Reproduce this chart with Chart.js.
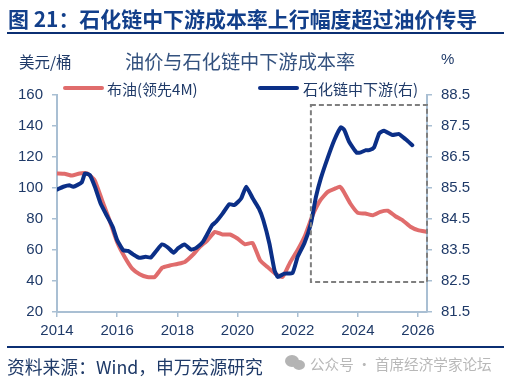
<!DOCTYPE html>
<html lang="zh">
<head>
<meta charset="UTF-8">
<title>油价与石化链中下游成本率</title>
<script src="https://cdn.jsdelivr.net/npm/chart.js"></script>
<style>
    html, body { margin: 0; padding: 0; background: #fff; overflow: hidden; }
    #wrap { position: relative; width: 508px; height: 384px; font-family: "Noto Sans CJK SC", sans-serif; color: #1f3a68; }
    #wrap canvas { position: absolute; left: 0; top: 0; }
    .t { position: absolute; white-space: nowrap; line-height: 1; }
    .rule { position: absolute; left: 7px; width: 497px; height: 2px; background: #0b2f73; }
    .swatch { position: absolute; width: 41px; height: 4px; border-radius: 2px; }
    .bub { position: absolute; border-radius: 50%; background: #b4b4b4; }
</style>
</head>
<body>
<div id="wrap">
    <canvas id="chart" width="508" height="384"></canvas>
    <div class="t" style="left:8px;top:8px;font-size:20.95px;font-weight:700;color:#123f8a">图 21：石化链中下游成本率上行幅度超过油价传导</div>
    <div class="rule" style="top:32px"></div>
    <div class="t" style="left:19px;top:54px;font-size:15.5px">美元/桶</div>
    <div class="t" style="left:125px;top:52px;font-size:19.2px;color:#34527f">油价与石化链中下游成本率</div>
    <div class="t" style="left:441px;top:51px;font-size:15px;font-family:'Liberation Sans'">%</div>
    <div class="swatch" style="left:63px;top:86px;background:#e06c6c"></div>
    <div class="t" style="left:107px;top:81px;font-size:15px">布油(领先4M)</div>
    <div class="swatch" style="left:258px;top:86px;background:#0b2f87"></div>
    <div class="t" style="left:303px;top:81px;font-size:15px">石化链中下游(右)</div>
    <div class="rule" style="top:346px"></div>
    <div class="t" style="left:7px;top:358px;font-size:17.8px">资料来源：Wind，申万宏源研究</div>
    <div class="bub" style="left:285px;top:355px;width:14px;height:12px"></div>
    <div class="bub" style="left:293px;top:360px;width:12px;height:10px"></div>
    <div class="t" style="left:310px;top:357px;font-size:14.6px;color:#b8b8b8">公众号 · 首席经济学家论坛</div>
</div>
<script>
    // values
    var oilYears = [2014, 2014.25, 2014.5, 2014.75, 2015, 2015.25, 2015.5, 2015.75, 2016, 2016.25, 2016.5, 2016.75,
        2017, 2017.25, 2017.5, 2017.75, 2018, 2018.25, 2018.5, 2018.75, 2019, 2019.25, 2019.5, 2019.75,
        2020, 2020.25, 2020.5, 2020.75, 2021, 2021.25, 2021.5, 2021.75, 2022, 2022.25, 2022.5, 2022.75,
        2023, 2023.25, 2023.4, 2023.5, 2023.75, 2024, 2024.25, 2024.5, 2024.75, 2025, 2025.25, 2025.5, 2025.75, 2026, 2026.3];
    var oilPrice = [109.4, 109.2, 108, 109.4, 109.4, 105, 92, 79, 65, 55.5, 48, 44.4,
        42.6, 42.6, 48.6, 50, 51, 52.3, 56.6, 62, 66.3, 71.7, 70, 70,
        67.4, 63.7, 64.6, 53.4, 49, 44.8, 42.6, 52, 60, 69.5, 82.5, 92,
        97.5, 99.7, 100.8, 98.6, 90, 84, 83.5, 82.4, 84.6, 85.3, 81.8, 79, 75, 72.8, 71.7];

    var costYears = [2014, 2014.21, 2014.41, 2014.54, 2014.82, 2014.93, 2015.09, 2015.26, 2015.45, 2015.65, 2015.85,
        2016, 2016.2, 2016.36, 2016.53, 2016.73, 2016.95, 2017.12, 2017.3, 2017.49, 2017.69, 2017.88,
        2018.02, 2018.24, 2018.46, 2018.63, 2018.85, 2019.16, 2019.29, 2019.51, 2019.73, 2019.9,
        2020.12, 2020.29, 2020.51, 2020.71, 2020.86, 2021.06, 2021.23, 2021.34, 2021.56, 2021.83,
        2022, 2022.22, 2022.44, 2022.61, 2022.77, 2022.99, 2023.22, 2023.44, 2023.55, 2023.71, 2023.96,
        2024.1, 2024.27, 2024.38, 2024.54, 2024.71, 2024.87, 2025.15, 2025.37, 2025.59, 2025.81];
    var costRate = [85.45, 85.54, 85.59, 85.54, 85.68, 85.97, 85.92, 85.54, 85, 84.62, 84.25,
        83.82, 83.49, 83.47, 83.36, 83.25, 83.28, 83.26, 83.47, 83.68, 83.58, 83.41,
        83.55, 83.68, 83.51, 83.57, 83.76, 84.3, 84.41, 84.68, 84.98, 84.95,
        85.16, 85.54, 85.16, 84.84, 84.46, 83.71, 82.85, 82.63, 82.74, 82.76,
        83.28, 83.71, 84.35, 85.22, 85.81, 86.45, 87.05, 87.46, 87.37, 86.99, 86.64,
        86.65, 86.72, 86.72, 86.81, 87.26, 87.35, 87.21, 87.24, 87.07, 86.88];

    var yearTicks = [2014, 2016, 2018, 2020, 2022, 2024, 2026];

    function zip(xs, ys) {
        return xs.map(function (x, i) { return { x: x, y: ys[i] }; });
    }

    var axisColor = '#a9bfd3';
    var tickColor = '#1f3a68';
    var tickFont = { family: '"Liberation Sans"', size: 15 };

    // dashed box around the recent period
    var boxPlugin = {
        id: 'box',
        afterDatasetsDraw: function (chart) {
            var c = chart.ctx, x = chart.scales.x, y = chart.scales.y2;
            var l = x.getPixelForValue(2022.44), r = x.getPixelForValue(2026.3);
            var t = y.getPixelForValue(88.18), b = y.getPixelForValue(82.47);
            c.save();
            c.strokeStyle = '#7f7f7f';
            c.lineWidth = 2;
            c.setLineDash([5, 3]);
            c.strokeRect(l, t, r - l, b - t);
            c.restore();
        }
    };

    new Chart(document.getElementById('chart').getContext('2d'), {
        type: 'line',
        data: {
            datasets: [
                { label: '石化链中下游(右)', data: zip(costYears, costRate), yAxisID: 'y2', borderColor: '#0b2f87', borderWidth: 4, order: 1 },
                { label: '布油(领先4M)', data: zip(oilYears, oilPrice), yAxisID: 'y', borderColor: '#e06c6c', borderWidth: 4, order: 2 }
            ]
        },
        plugins: [boxPlugin],
        options: {
            responsive: false,
            animation: false,
            layout: { padding: { top: 95, left: 0, right: 0, bottom: 0 } },
            elements: { point: { radius: 0 }, line: { tension: 0.15, borderCapStyle: 'round', borderJoinStyle: 'round' } },
            plugins: { legend: { display: false }, title: { display: false }, tooltip: { enabled: false } },
            scales: {
                x: {
                    type: 'linear', min: 2014, max: 2026.3,
                    afterBuildTicks: function (s) { s.ticks = yearTicks.map(function (v) { return { value: v }; }); },
                    afterFit: function (s) { s.height = 72; },
                    border: { color: axisColor, width: 2 },
                    grid: { drawOnChartArea: false, color: axisColor, tickLength: 5, lineWidth: 1.5 },
                    ticks: { color: tickColor, font: tickFont, padding: 5, maxRotation: 0, autoSkip: false,
                        callback: function (v) { return String(v); } }
                },
                y: {
                    position: 'left', min: 20, max: 160,
                    afterFit: function (s) { s.width = 57; },
                    border: { color: axisColor, width: 2 },
                    grid: { drawOnChartArea: false, color: axisColor, tickLength: 5, lineWidth: 1.5 },
                    ticks: { color: tickColor, font: tickFont, stepSize: 20, padding: 9 }
                },
                y2: {
                    position: 'right', min: 81.5, max: 88.5,
                    afterFit: function (s) { s.width = 81; },
                    border: { color: axisColor, width: 2 },
                    grid: { drawOnChartArea: false, color: axisColor, tickLength: 5, lineWidth: 1.5 },
                    ticks: { color: tickColor, font: tickFont, stepSize: 1, padding: 9,
                        callback: function (v) { return v.toFixed(1); } }
                }
            }
        }
    });
</script>
</body>
</html>
